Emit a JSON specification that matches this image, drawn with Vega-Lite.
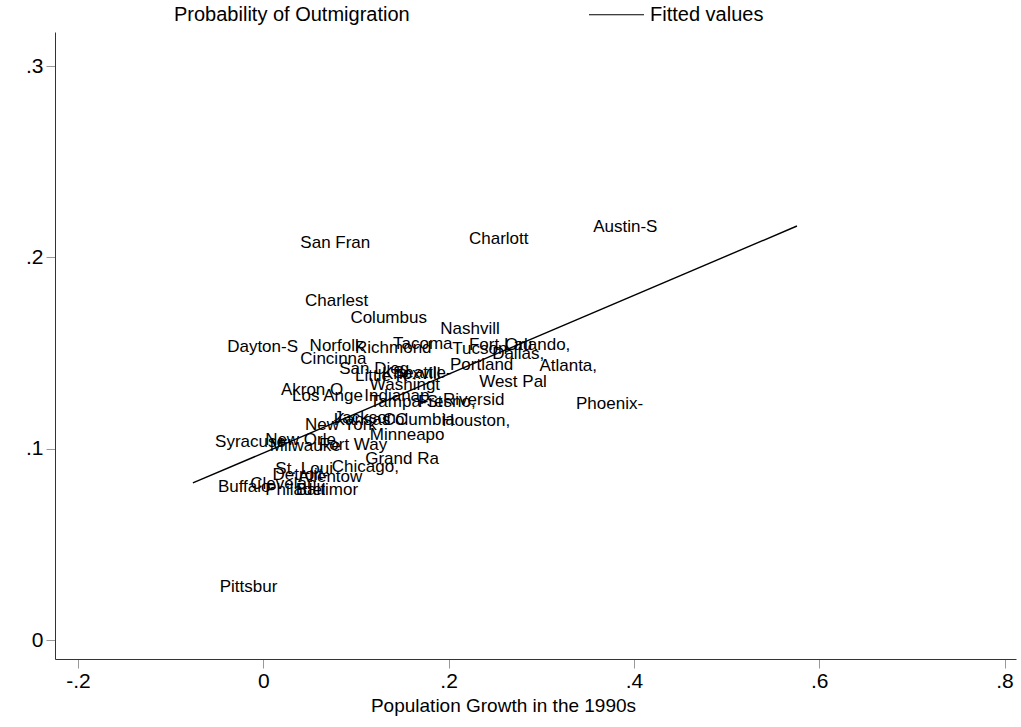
{
  "$schema": "https://vega.github.io/schema/vega-lite/v6.json",
  "width": 961,
  "height": 627,
  "autosize": {"type": "none"},
  "padding": {"left": 55, "top": 32, "right": 5, "bottom": 68},
  "background": "white",
  "config": {
    "view": {"stroke": null},
    "font": "Liberation Sans",
    "axis": {
      "grid": false,
      "domainColor": "#333333",
      "domainWidth": 1,
      "tickColor": "#999999",
      "tickSize": 9,
      "labelFont": "Liberation Sans",
      "labelFontSize": 21,
      "labelColor": "black",
      "titleFont": "Liberation Sans",
      "titleFontSize": 19,
      "titleFontWeight": "normal",
      "titleColor": "black"
    }
  },
  "datasets": {
    "cities": [
      {"city": "Austin-S", "growth": 0.356, "prob": 0.2159},
      {"city": "San Fran", "growth": 0.040, "prob": 0.2075},
      {"city": "Charlott", "growth": 0.222, "prob": 0.2096},
      {"city": "Charlest", "growth": 0.045, "prob": 0.1772},
      {"city": "Columbus", "growth": 0.094, "prob": 0.1683},
      {"city": "Nashvill", "growth": 0.191, "prob": 0.1626},
      {"city": "Dayton-S", "growth": -0.039, "prob": 0.1532},
      {"city": "Norfolk", "growth": 0.050, "prob": 0.1537},
      {"city": "Richmond", "growth": 0.099, "prob": 0.1526},
      {"city": "Tacoma", "growth": 0.140, "prob": 0.1547},
      {"city": "Tucson", "growth": 0.204, "prob": 0.1521},
      {"city": "Fort Lau", "growth": 0.222, "prob": 0.1542},
      {"city": "Orlando,", "growth": 0.261, "prob": 0.1542},
      {"city": "Dallas,", "growth": 0.247, "prob": 0.1495},
      {"city": "Cincinna", "growth": 0.040, "prob": 0.1469},
      {"city": "San Dieg", "growth": 0.082, "prob": 0.1417},
      {"city": "Little R", "growth": 0.099, "prob": 0.1380},
      {"city": "Knoxvill", "growth": 0.128, "prob": 0.1390},
      {"city": "Seattle-", "growth": 0.140, "prob": 0.1396},
      {"city": "Portland", "growth": 0.2015, "prob": 0.1438},
      {"city": "Atlanta,", "growth": 0.298, "prob": 0.1432},
      {"city": "West Pal", "growth": 0.233, "prob": 0.1349},
      {"city": "Washingt", "growth": 0.115, "prob": 0.1333},
      {"city": "Akron O", "growth": 0.019, "prob": 0.1307},
      {"city": "Los Ange", "growth": 0.031, "prob": 0.1275},
      {"city": "Indianap", "growth": 0.109, "prob": 0.1275},
      {"city": "Tampa-St", "growth": 0.115, "prob": 0.1244},
      {"city": "Fresno,", "growth": 0.167, "prob": 0.1244},
      {"city": "Riversid", "growth": 0.194, "prob": 0.1255},
      {"city": "Phoenix-", "growth": 0.3375, "prob": 0.1234},
      {"city": "Jackson", "growth": 0.076, "prob": 0.1160},
      {"city": "Kansas C", "growth": 0.076, "prob": 0.1150},
      {"city": "Columbia", "growth": 0.129, "prob": 0.1150},
      {"city": "Houston,", "growth": 0.193, "prob": 0.1145},
      {"city": "New York", "growth": 0.045, "prob": 0.1124},
      {"city": "Minneapo", "growth": 0.115, "prob": 0.1072},
      {"city": "Syracuse", "growth": -0.052, "prob": 0.1035},
      {"city": "New Orle", "growth": 0.002, "prob": 0.1045},
      {"city": "Milwauke", "growth": 0.007, "prob": 0.1014},
      {"city": "Fort Way", "growth": 0.060, "prob": 0.1019},
      {"city": "Grand Ra", "growth": 0.110, "prob": 0.0946},
      {"city": "Chicago,", "growth": 0.074, "prob": 0.0904},
      {"city": "St. Loui", "growth": 0.013, "prob": 0.0894},
      {"city": "Detroit-", "growth": 0.010, "prob": 0.0863},
      {"city": "Allentow", "growth": 0.0375, "prob": 0.0852},
      {"city": "Buffalo-", "growth": -0.049, "prob": 0.0800},
      {"city": "Clevelan", "growth": -0.014, "prob": 0.0815},
      {"city": "Philadel", "growth": 0.002, "prob": 0.0784},
      {"city": "Baltimor", "growth": 0.035, "prob": 0.0784},
      {"city": "Pittsbur", "growth": -0.047, "prob": 0.0277}
    ],
    "fit": [
      {"series": "Fitted values", "growth": -0.076, "prob": 0.0821},
      {"series": "Fitted values", "growth": 0.576, "prob": 0.2164}
    ]
  },
  "layer": [
    {
      "data": {"name": "cities"},
      "mark": {"type": "text", "align": "left", "baseline": "middle", "fontSize": 17, "font": "Liberation Sans", "color": "black"},
      "encoding": {
        "x": {"field": "growth", "type": "quantitative"},
        "y": {"field": "prob", "type": "quantitative"},
        "text": {"field": "city"}
      }
    },
    {
      "data": {"name": "fit"},
      "mark": {"type": "line", "strokeWidth": 1.4},
      "encoding": {
        "x": {
          "field": "growth",
          "type": "quantitative",
          "scale": {"domain": [-0.2248, 0.8124], "nice": false, "zero": false},
          "axis": {
            "values": [-0.2, 0, 0.2, 0.4, 0.6, 0.8],
            "labelExpr": "datum.value == 0 ? '0' : replace(replace(format(datum.value, '.1f'), '0.', '.'), '\u2212', '-')",
            "labelPadding": 2,
            "title": "Population Growth in the 1990s",
            "titlePadding": 5,
            "titleX": 448
          }
        },
        "y": {
          "field": "prob",
          "type": "quantitative",
          "scale": {"domain": [-0.0099, 0.3178], "nice": false, "zero": false},
          "axis": {
            "values": [0, 0.1, 0.2, 0.3],
            "labelExpr": "datum.value == 0 ? '0' : replace(format(datum.value, '.1f'), '0.', '.')",
            "labelPadding": 3,
            "title": null
          }
        },
        "color": {
          "field": "series",
          "type": "nominal",
          "scale": {"domain": ["Probability of Outmigration", "Fitted values"], "range": ["transparent", "black"]},
          "legend": {
            "title": null,
            "orient": "none",
            "legendX": 57,
            "legendY": -46,
            "direction": "horizontal",
            "columns": 2,
            "columnPadding": 176,
            "padding": 0,
            "symbolType": "stroke",
            "symbolSize": 3025,
            "symbolStrokeWidth": 1.2,
            "labelFont": "Liberation Sans",
            "labelFontSize": 20,
            "labelColor": "black",
            "labelOffset": 5,
            "labelLimit": 400
          }
        }
      }
    }
  ]
}
